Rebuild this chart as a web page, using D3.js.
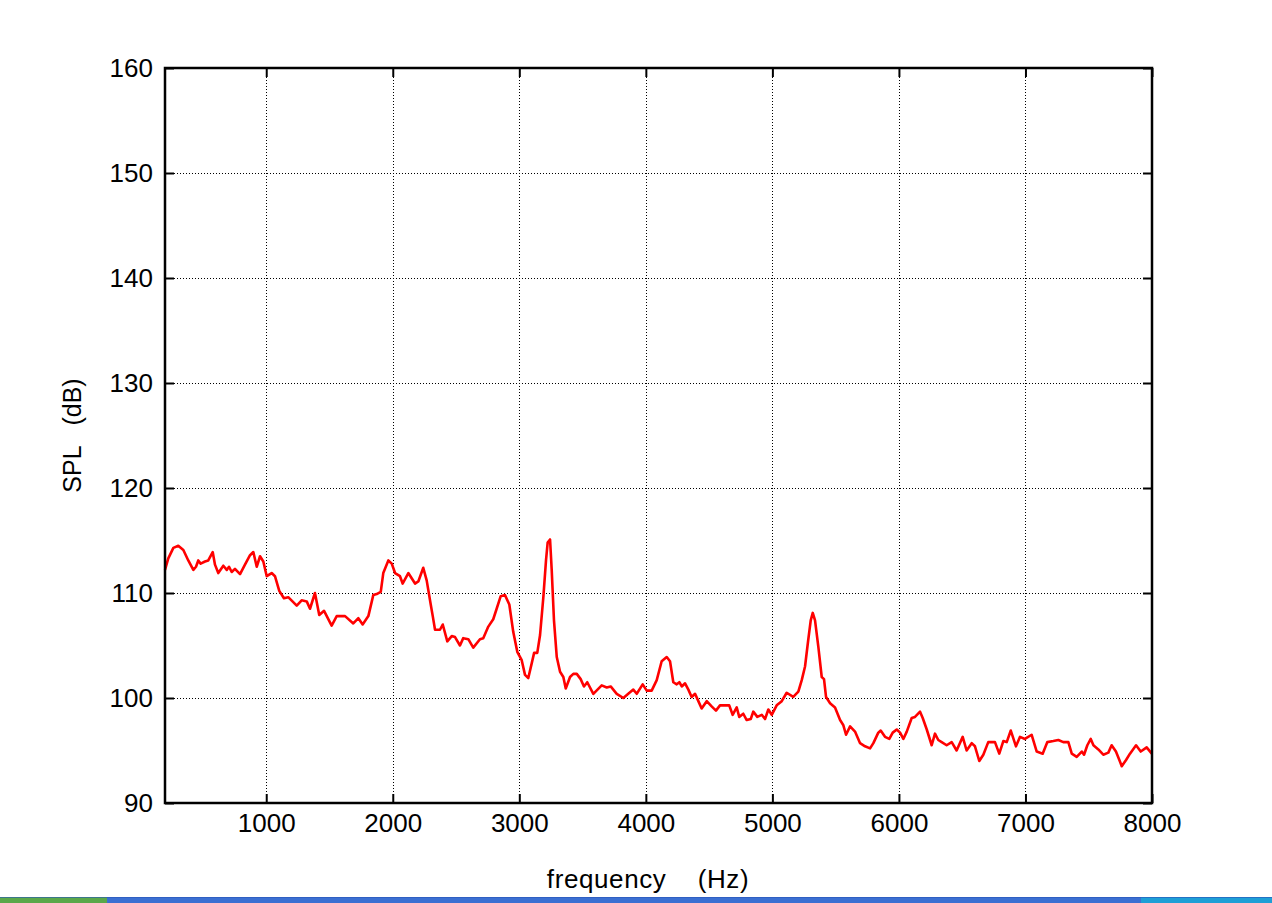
<!DOCTYPE html>
<html>
<head>
<meta charset="utf-8">
<script src="https://cdn.jsdelivr.net/npm/d3@7"></script>
<style>
  body { margin: 0; background: #fff; }
  svg { display: block; font-family: Arial, "Liberation Sans", sans-serif; }
</style>
</head>
<body>
<svg></svg>
<script>
const width = 1272;
const height = 903;
const margin = { top: 68, right: 120, bottom: 100, left: 165 };

const xTicks = [1000, 2000, 3000, 4000, 5000, 6000, 7000, 8000];
const yTicks = [90, 100, 110, 120, 130, 140, 150, 160];

const freq = [200,226,266,305,345,384,424,445,463,482,516,542,577,595,621,661,688,706,727,753,793,832,872,898,925,951,977,1004,1043,1069,1103,1140,1174,1241,1280,1320,1346,1385,1419,1457,1517,1557,1623,1688,1728,1762,1807,1846,1873,1905,1925,1965,1992,2018,2057,2078,2123,2176,2202,2241,2268,2300,2316,2334,2373,2395,2431,2466,2492,2531,2557,2597,2636,2689,
  2715,2755,2794,2821,2853,2887,2921,2952,2984,3019,3045,3071,3098,3117,3142,3164,3190,3211,3224,3243,3256,3274,3296,3322,3348,3367,3401,3427,3454,3485,3511,3537,3585,3651,3691,3722,3770,3822,3861,3901,3928,3975,4007,4046,4086,4125,4165,4191,4217,4244,4265,4284,4310,4336,4362,4389,4415,4441,4481,4520,4554,4586,4639,4659,4686,4718,4738,4770,4797,4829,4849,4881,4916,4942,4968,4995,5034,5074,5113,5165,5205,5232,5258,
  5283,5303,5319,5337,5363,5390,5408,5424,5456,5495,5535,5561,5582,5614,5653,5693,5732,5772,5798,5837,5856,5890,5924,5951,5983,6009,6035,6062,6101,6127,6167,6188,6220,6259,6285,6311,6338,6377,6417,6456,6504,6535,6575,6601,6635,6667,6706,6733,6759,6793,6825,6852,6884,6925,6957,6996,7049,7089,7136,7173,7220,7260,7299,7339,7366,7405,7445,7463,7489,7516,7537,7576,7615,7655,7681,7715,7742,7761,7795,7826,7874,7911,7958,7998];

const spl = [112.2,113.3,114.3,114.5,114.1,113.1,112.2,112.5,113.1,112.8,113.0,113.1,113.9,112.7,111.9,112.6,112.2,112.5,112.0,112.3,111.8,112.7,113.6,113.9,112.5,113.5,113.0,111.6,111.9,111.6,110.2,109.5,109.6,108.8,109.3,109.2,108.5,110.0,107.9,108.3,106.9,107.8,107.8,107.1,107.6,107.0,107.8,109.8,109.9,110.1,111.9,113.1,112.8,111.9,111.6,110.9,111.9,110.9,111.1,112.4,111.2,108.9,107.8,106.5,106.5,107.0,105.4,105.9,105.8,105.0,105.7,105.6,104.8,105.6,
  105.7,106.8,107.5,108.5,109.7,109.8,108.9,106.3,104.4,103.6,102.2,101.9,103.3,104.3,104.3,106.0,109.6,113.1,114.8,115.1,112.2,107.4,103.9,102.5,102.0,100.9,102.0,102.3,102.3,101.8,101.1,101.5,100.4,101.2,101.0,101.1,100.4,100.0,100.4,100.8,100.4,101.3,100.7,100.7,101.7,103.5,103.9,103.5,101.5,101.3,101.5,101.1,101.4,100.8,100.1,100.4,99.7,99.0,99.7,99.2,98.8,99.3,99.3,99.3,98.4,99.1,98.2,98.5,97.9,98.0,98.7,98.2,98.4,98.0,98.9,98.4,99.3,99.7,100.5,100.1,100.6,101.7,103.0,
  105.5,107.4,108.1,107.4,104.9,102.0,101.8,100.1,99.5,99.1,97.9,97.4,96.5,97.3,96.8,95.7,95.4,95.2,95.7,96.7,96.9,96.3,96.1,96.7,97.0,96.7,96.1,96.8,98.1,98.2,98.7,98.1,97.0,95.5,96.6,96.0,95.8,95.5,95.8,95.0,96.3,95.0,95.7,95.4,94.0,94.6,95.8,95.8,95.8,94.7,95.9,95.8,96.9,95.4,96.3,96.1,96.5,94.9,94.7,95.8,95.9,96.0,95.8,95.8,94.7,94.4,94.9,94.6,95.5,96.1,95.5,95.1,94.6,94.8,95.5,94.9,94.1,93.5,94.1,94.7,95.5,94.9,95.3,94.7];

const svg = d3.select('svg')
  .attr('width', width)
  .attr('height', height);

const x = d3.scaleLinear()
  .domain([200, 8000])
  .range([margin.left, width - margin.right]);

const y = d3.scaleLinear()
  .domain([90, 160])
  .range([height - margin.bottom, margin.top]);

const x0 = x.range()[0], x1 = x.range()[1];
const y0 = y.range()[0], y1 = y.range()[1];

// dotted grid
const grid = svg.append('g')
  .attr('stroke', '#000')
  .attr('stroke-width', 1)
  .attr('stroke-dasharray', '1,2')
  .attr('shape-rendering', 'crispEdges');

grid.selectAll('.gx')
  .data(xTicks.filter(d => d < 8000))
  .enter().append('line')
  .attr('x1', d => Math.round(x(d)) + 0.5)
  .attr('x2', d => Math.round(x(d)) + 0.5)
  .attr('y1', y1)
  .attr('y2', y0);

grid.selectAll('.gy')
  .data(yTicks.filter(d => d > 90 && d < 160))
  .enter().append('line')
  .attr('y1', d => Math.round(y(d)) + 0.5)
  .attr('y2', d => Math.round(y(d)) + 0.5)
  .attr('x1', x0)
  .attr('x2', x1);

// the curve
const data = freq.map((f, i) => ({ f, v: spl[i] }));

svg.append('path')
  .datum(data)
  .attr('fill', 'none')
  .attr('stroke', '#ff0000')
  .attr('stroke-width', 2.6)
  .attr('stroke-linejoin', 'round')
  .attr('d', d3.line().x(d => x(d.f)).y(d => y(d.v)));

// axes, ticks inside on all four sides
const tickLen = 9;
const fontSize = 26;

const xAxis = d3.axisBottom(x).tickValues(xTicks).tickFormat(d3.format('d')).tickSizeInner(-tickLen).tickSizeOuter(0).tickPadding(11);
const yAxis = d3.axisLeft(y).tickValues(yTicks).tickFormat(d3.format('d')).tickSizeInner(-tickLen).tickSizeOuter(0).tickPadding(12);
const xTop = d3.axisTop(x).tickValues(xTicks).tickSizeInner(-tickLen).tickSizeOuter(0).tickFormat('');
const yRight = d3.axisRight(y).tickValues(yTicks).tickSizeInner(-tickLen).tickSizeOuter(0).tickFormat('');

const styleAxis = g => {
  g.select('.domain').remove();
  g.selectAll('.tick line').attr('stroke', '#000').attr('stroke-width', 2);
  g.selectAll('text').attr('fill', '#000').attr('font-size', fontSize).attr('font-family', 'Arial, "Liberation Sans", sans-serif');
};

svg.append('g').attr('transform', `translate(0,${y0})`).call(xAxis).call(styleAxis);
svg.append('g').attr('transform', `translate(${x0},0)`).call(yAxis).call(styleAxis);
svg.append('g').attr('transform', `translate(0,${y1})`).call(xTop).call(styleAxis);
svg.append('g').attr('transform', `translate(${x1},0)`).call(yRight).call(styleAxis);

// frame
svg.append('rect')
  .attr('x', x0)
  .attr('y', y1)
  .attr('width', x1 - x0)
  .attr('height', y0 - y1)
  .attr('fill', 'none')
  .attr('stroke', '#000')
  .attr('stroke-width', 2.5);

// axis labels
svg.append('text')
  .attr('x', 648)
  .attr('y', 888)
  .attr('text-anchor', 'middle')
  .attr('font-size', 26)
  .attr('letter-spacing', 0.6)
  .style('white-space', 'pre')
  .text('frequency    (Hz)');

svg.append('text')
  .attr('transform', `translate(81,${(y0 + y1) / 2}) rotate(-90)`)
  .attr('text-anchor', 'middle')
  .attr('font-size', 25)
  .style('white-space', 'pre')
  .text('SPL   (dB)');

// bit of the desktop taskbar caught in the screenshot
const bar = svg.append('g');
bar.append('rect').attr('x', 0).attr('y', 897).attr('width', width).attr('height', 6).attr('fill', '#3b6fd2');
bar.append('rect').attr('x', 0).attr('y', 897).attr('width', 107).attr('height', 6).attr('fill', '#5aa84a');
bar.append('rect').attr('x', 1141).attr('y', 897).attr('width', 131).attr('height', 6).attr('fill', '#1e9fd6');
bar.append('rect').attr('x', 0).attr('y', 897).attr('width', width).attr('height', 1).attr('fill', '#2a55b8').attr('opacity', 0.6);
</script>
</body>
</html>
